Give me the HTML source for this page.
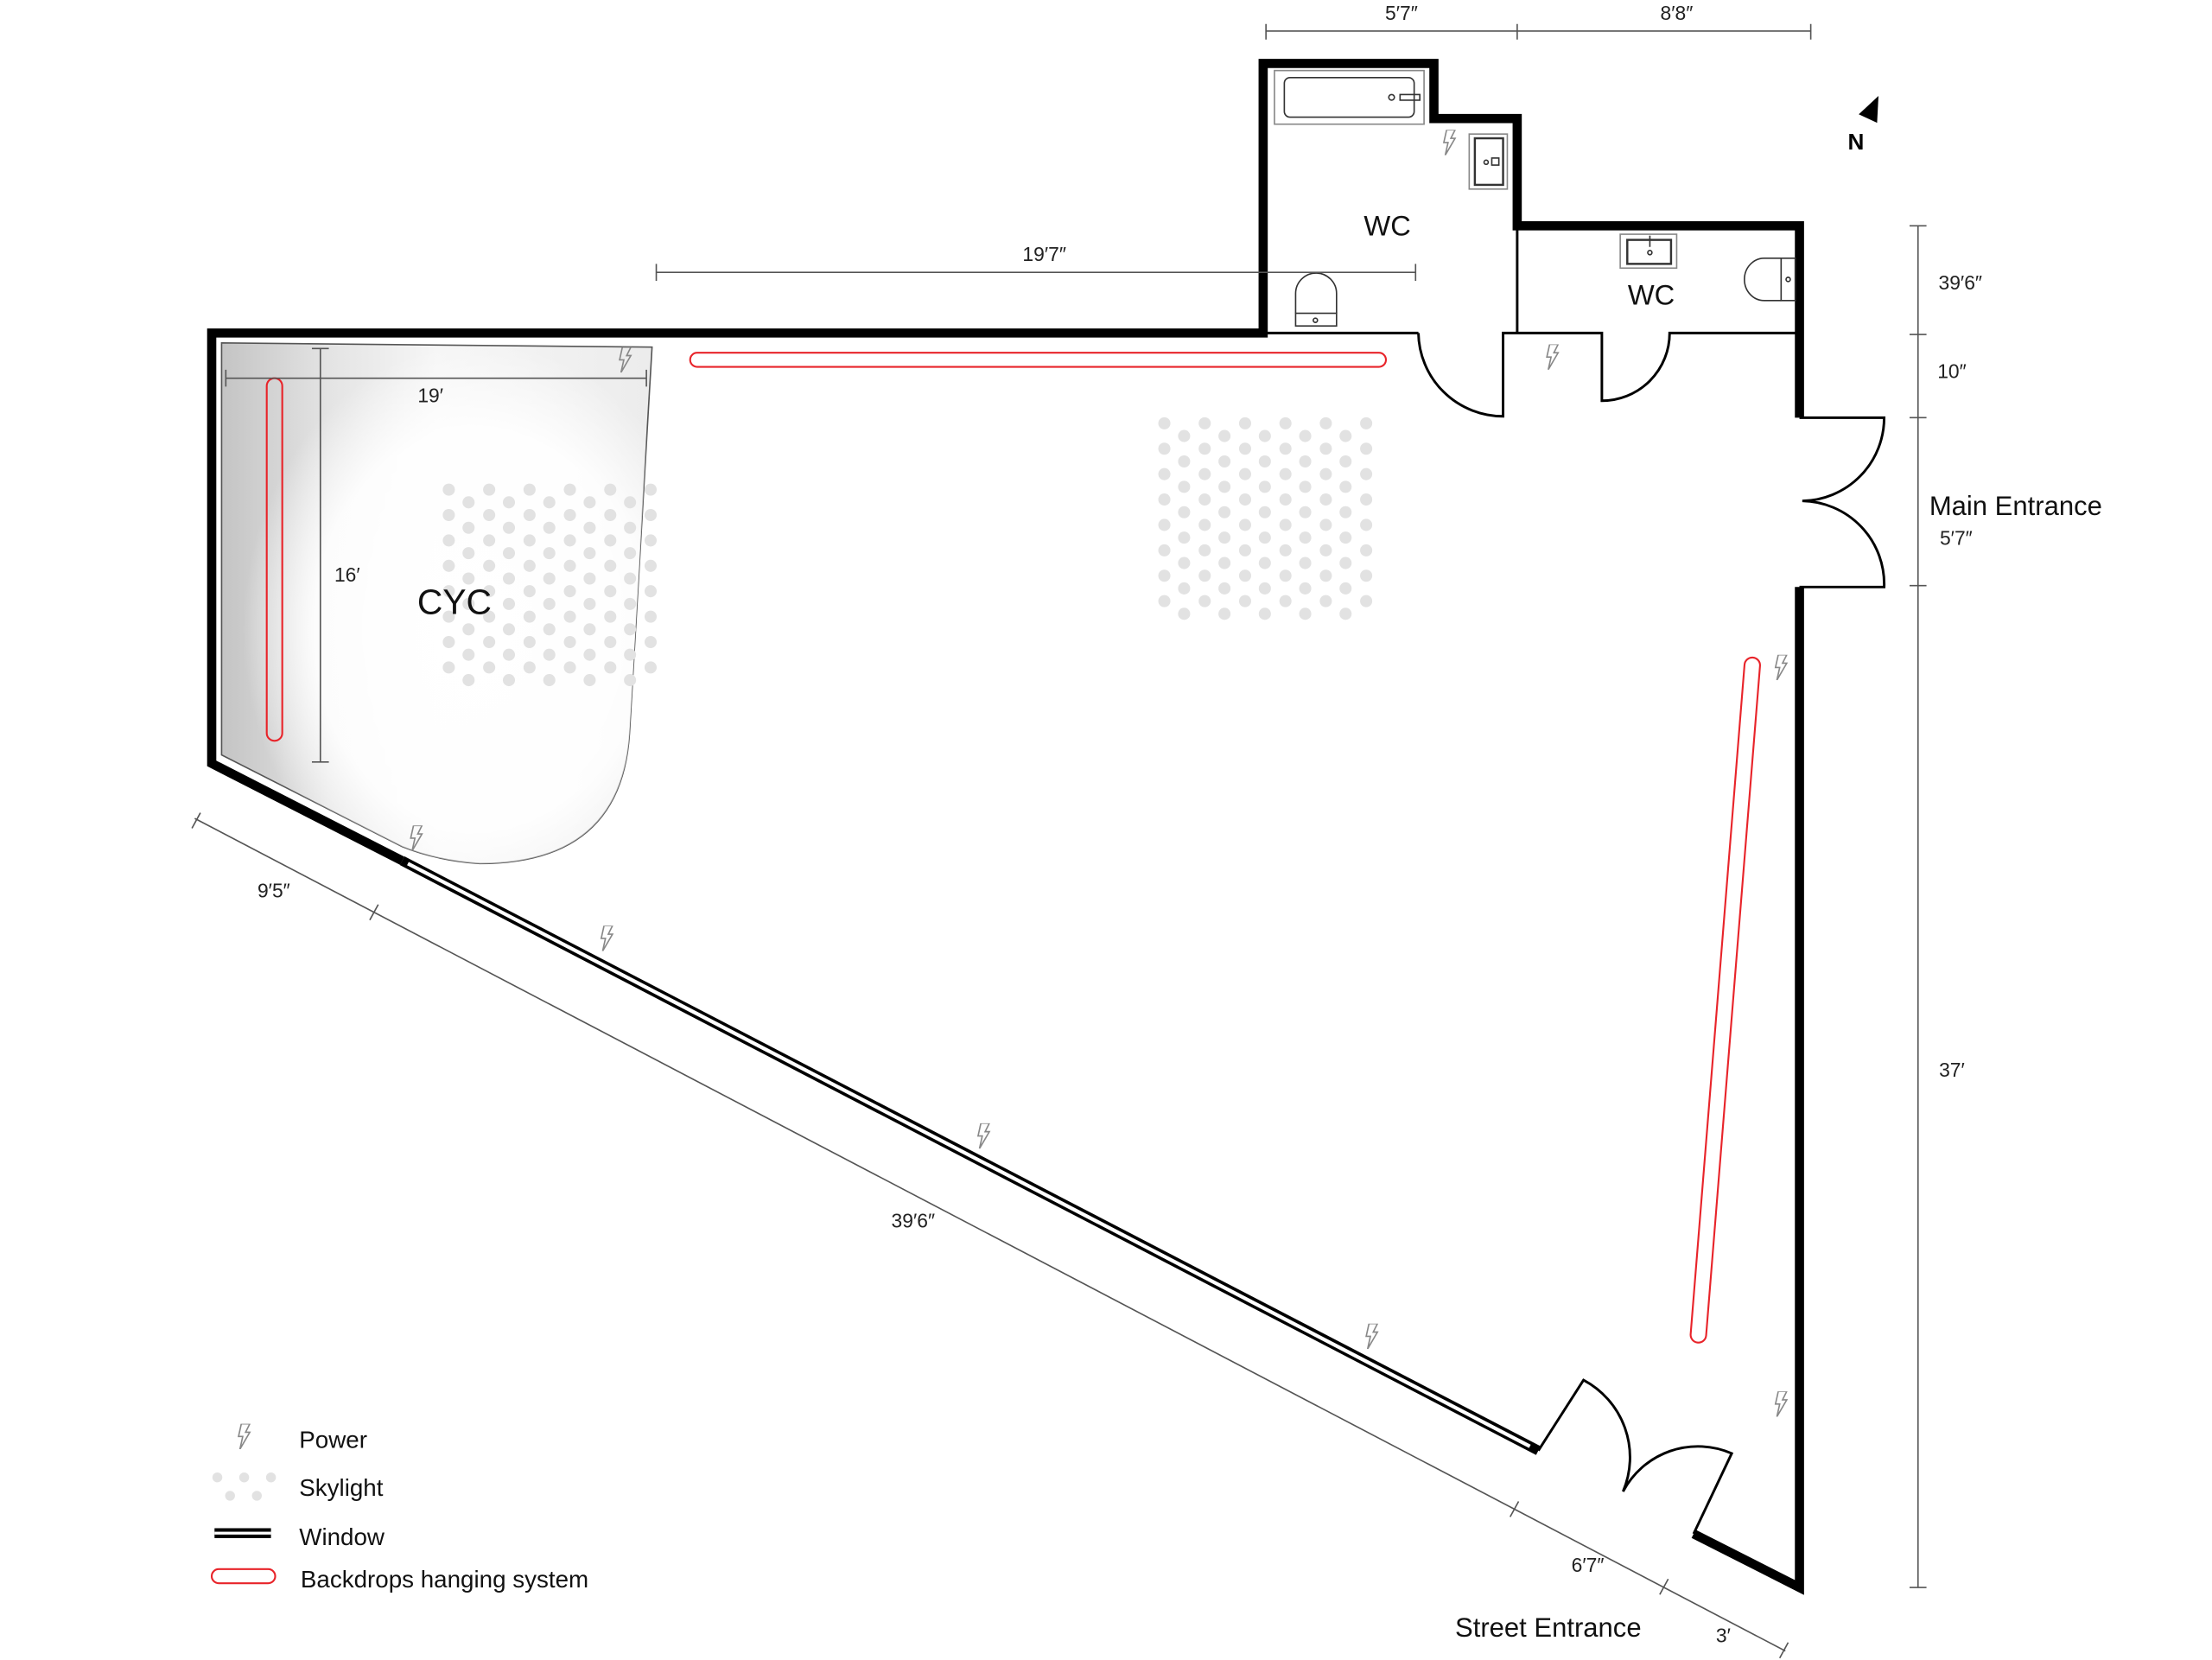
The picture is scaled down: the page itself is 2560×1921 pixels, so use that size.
<!DOCTYPE html>
<html><head><meta charset="utf-8"><style>html,body{margin:0;padding:0;background:#fff}svg{display:block}text{font-family:"Liberation Sans",sans-serif}</style></head>
<body>
<svg width="2560" height="1921" viewBox="0 0 1567.3 1176.4" preserveAspectRatio="none" xmlns="http://www.w3.org/2000/svg">
<defs>
<linearGradient id="g1" x1="0" y1="0" x2="1" y2="0"><stop offset="0" stop-color="#c4c4c4"/><stop offset="0.25" stop-color="#e4e4e4"/><stop offset="0.5" stop-color="#f6f6f6"/><stop offset="1" stop-color="#ececec"/></linearGradient>
<radialGradient id="g2" cx="0.6" cy="0.55" r="0.55"><stop offset="0" stop-color="#fff" stop-opacity="1"/><stop offset="0.7" stop-color="#fff" stop-opacity="0.9"/><stop offset="1" stop-color="#fff" stop-opacity="0"/></radialGradient>
<symbol id="pw" viewBox="0 0 10 18"><path d="M3 0 L9 0 L6 6 L9 6 L2 18 L4 9 L1 9 Z" fill="none" stroke="#888" stroke-width="1"/></symbol>
</defs>
<path d="M157 243 L462 246 L446 520 Q440 612 340 612 Q310 610 285 600 L157 535 Z" fill="url(#g1)" stroke="#555" stroke-width="1"/>
<path d="M157 243 L462 246 L446 520 Q440 612 340 612 Q310 610 285 600 L157 535 Z" fill="url(#g2)"/>
<g fill="#e2e2e2" id="dots1">
<g id="dc">
<circle cx="318" cy="347" r="4.3"/><circle cx="318" cy="365" r="4.3"/><circle cx="318" cy="383" r="4.3"/><circle cx="318" cy="401" r="4.3"/><circle cx="318" cy="419" r="4.3"/><circle cx="318" cy="437" r="4.3"/><circle cx="318" cy="455" r="4.3"/><circle cx="318" cy="473" r="4.3"/>
<circle cx="332" cy="356" r="4.3"/><circle cx="332" cy="374" r="4.3"/><circle cx="332" cy="392" r="4.3"/><circle cx="332" cy="410" r="4.3"/><circle cx="332" cy="428" r="4.3"/><circle cx="332" cy="446" r="4.3"/><circle cx="332" cy="464" r="4.3"/><circle cx="332" cy="482" r="4.3"/>
</g>
<use href="#dc" x="28.6"/><use href="#dc" x="57.2"/><use href="#dc" x="85.8"/><use href="#dc" x="114.4"/>
<g transform="translate(143.0 0)"><circle cx="318" cy="347" r="4.3"/><circle cx="318" cy="365" r="4.3"/><circle cx="318" cy="383" r="4.3"/><circle cx="318" cy="401" r="4.3"/><circle cx="318" cy="419" r="4.3"/><circle cx="318" cy="437" r="4.3"/><circle cx="318" cy="455" r="4.3"/><circle cx="318" cy="473" r="4.3"/></g>
</g>
<use href="#dots1" x="507" y="-47"/>
<g fill="none" stroke="#e8242a" stroke-width="1.3">
<rect x="489" y="250" width="493" height="10" rx="5"/>
<rect x="189" y="268" width="11" height="257" rx="5.5"/>
<rect x="-5.5" y="0" width="11" height="487" rx="5.5" transform="translate(1242 466) rotate(4.6)"/>
<rect x="150" y="1112" width="45" height="10" rx="5"/>
</g>
<g fill="none" stroke="#000" stroke-width="6.5" stroke-linejoin="miter">
<path d="M1275 296 L1275 160 L1075 160 L1075 84 L1016 84 L1016 45 L895 45 L895 236 L150 236 L150 541 L285 610"/>
<path d="M1200 1087 L1275 1125 L1275 416"/>
</g>
<line x1="285" y1="610" x2="1090" y2="1028" stroke="#000" stroke-width="7"/>
<line x1="289" y1="612" x2="1084" y2="1025" stroke="#fff" stroke-width="2.6"/>
<g fill="none" stroke="#000" stroke-width="1.8">
<path d="M898 236 L1005 236"/>
<path d="M1005 236 A60 60 0 0 0 1065 295 L1065 236 L1135 236 L1135 284 A48 48 0 0 0 1183 236 L1272 236"/>
<path d="M1075 163 L1075 236"/>
<path d="M1275 296 L1335 296 A59 59 0 0 1 1277 355 A59 59 0 0 1 1335 416 L1275 416"/>
<path d="M1090 1028 L1122 978 A62 62 0 0 1 1150 1057 A60 60 0 0 1 1227 1030 L1200 1087"/>
</g>
<g fill="none" stroke="#333" stroke-width="1">
<rect x="903" y="50" width="106" height="38" stroke="#888"/>
<rect x="910" y="55" width="92" height="28" rx="4"/>
<circle cx="986" cy="69" r="2"/><rect x="992" y="67" width="14" height="4"/>
<rect x="1041" y="95" width="27" height="39" stroke="#888"/>
<rect x="1045" y="98" width="20" height="33" stroke-width="1.5"/>
<circle cx="1053" cy="115" r="1.5"/><rect x="1057" y="112" width="5" height="5"/>
<path d="M918 222 L918 208 A14.5 14.5 0 0 1 947 208 L947 222"/><rect x="918" y="222" width="29" height="9"/><circle cx="932" cy="227" r="1.5"/>
<rect x="1148" y="166" width="40" height="24" stroke="#888"/><rect x="1153" y="170" width="31" height="17" stroke-width="1.5"/><circle cx="1169" cy="179" r="1.5"/><path d="M1169 167 L1169 175"/>
<path d="M1262 183 L1250 183 A14 15 0 0 0 1250 213 L1262 213"/><rect x="1262" y="183" width="10" height="30"/><circle cx="1267" cy="198" r="1.5"/>
</g>
<g>
<use href="#pw" x="438" y="246" width="10" height="18"/>
<use href="#pw" x="1022" y="92" width="10" height="18"/>
<use href="#pw" x="1095" y="244" width="10" height="18"/>
<use href="#pw" x="290" y="585" width="10" height="18"/>
<use href="#pw" x="425" y="656" width="10" height="18"/>
<use href="#pw" x="692" y="796" width="10" height="18"/>
<use href="#pw" x="967" y="938" width="10" height="18"/>
<use href="#pw" x="1257" y="464" width="10" height="18"/>
<use href="#pw" x="1257" y="986" width="10" height="18"/>
<use href="#pw" x="168" y="1009" width="10" height="18"/>
</g>
<g stroke="#555" stroke-width="1" fill="none">
<path d="M897 22 L1283 22 M897 17 V28 M1075 17 V28 M1283 17 V28"/>
<path d="M465 193 L1003 193 M465 187 V199 M1003 187 V199"/>
<path d="M1359 160 L1359 1125 M1353 160 H1365 M1353 237 H1365 M1353 296 H1365 M1353 415 H1365 M1353 1125 H1365"/>
<path d="M138 580 L1265 1170"/>
<path d="M136 587 L142 576 M262 652 L268 641 M1070 1075 L1076 1064 M1176 1130 L1182 1119 M1261 1175 L1267 1164"/>
<path d="M160 268 L458 268 M160 262 V274 M458 262 V274"/>
<path d="M227 247 L227 540 M221 247 H233 M221 540 H233"/>
</g>
<g fill="#000">
<circle cx="154" cy="1047" r="3.5" fill="#e2e2e2"/><circle cx="173" cy="1047" r="3.5" fill="#e2e2e2"/><circle cx="192" cy="1047" r="3.5" fill="#e2e2e2"/>
<circle cx="163" cy="1060" r="3.5" fill="#e2e2e2"/><circle cx="182" cy="1060" r="3.5" fill="#e2e2e2"/>
<rect x="152" y="1083" width="40" height="7"/><rect x="152" y="1085.5" width="40" height="2" fill="#fff"/>
</g>
<path d="M1331 68 L1317 81 L1330 87 Z" fill="#000"/>
<text x="1315" y="106" font-size="16" font-weight="bold" text-anchor="middle">N</text>
<g fill="#222" font-size="14" text-anchor="middle">
<text x="993" y="14">5′7″</text><text x="1188" y="14">8′8″</text>
<text x="740" y="185">19′7″</text>
<text x="1389" y="205">39′6″</text><text x="1383" y="268">10″</text>
<text x="1386" y="386">5′7″</text><text x="1383" y="763">37′</text>
<text x="194" y="636">9′5″</text><text x="647" y="870">39′6″</text>
<text x="1125" y="1114">6′7″</text><text x="1221" y="1164">3′</text>
<text x="305" y="285">19′</text><text x="246" y="412">16′</text>
</g>
<g fill="#111">
<text x="983" y="167" font-size="20" text-anchor="middle">WC</text>
<text x="1170" y="216" font-size="20" text-anchor="middle">WC</text>
<text x="322" y="435" font-size="25" text-anchor="middle">CYC</text>
<text x="1367" y="365" font-size="19">Main Entrance</text>
<text x="1097" y="1160" font-size="19" text-anchor="middle">Street Entrance</text>
<text x="212" y="1026" font-size="17">Power</text>
<text x="212" y="1060" font-size="17">Skylight</text>
<text x="212" y="1095" font-size="17">Window</text>
<text x="213" y="1125" font-size="17">Backdrops hanging system</text>
</g>
</svg>
</body></html>
